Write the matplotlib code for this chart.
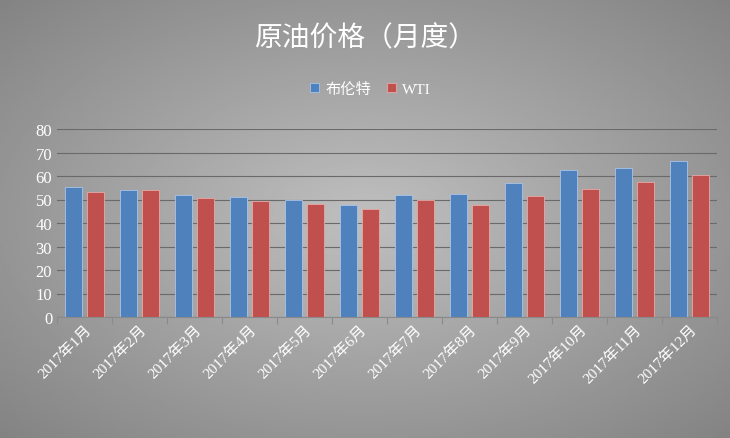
import matplotlib.pyplot as plt
import numpy as np

months = [f"2017年{i}月" for i in range(1, 13)]
brent = [55.5, 54, 52, 51, 50, 47.5, 52, 52.5, 57, 62.5, 63.5, 66.5]
wti = [53, 54, 50.5, 49.5, 48, 46, 50, 47.5, 51.5, 54.5, 57.5, 60.5]

plt.rcParams['font.family'] = ['Liberation Serif', 'Noto Sans CJK SC']

fig = plt.figure(figsize=(7.3, 4.39), dpi=100)
# dark radial background
bg = fig.add_axes([0, 0, 1, 1])
yy, xx = np.mgrid[-1:1:200j, -1:1:300j]
r = np.sqrt(xx**2 + yy**2)
bg.imshow(-r, cmap='gray', vmin=-4.5, vmax=1.5, aspect='auto', extent=[0, 1, 0, 1])
bg.axis('off')

ax = fig.add_axes([57 / 730, 1 - 318 / 439, 660 / 730, 188 / 439])
ax.patch.set_alpha(0)
x = np.arange(len(months))
w = 0.3
ax.bar(x - w / 2 - 0.05, brent, w, color='#4f81bd', edgecolor='#a8c4e8', linewidth=0.6, label='布伦特')
ax.bar(x + w / 2 + 0.05, wti, w, color='#c0504d', edgecolor='#e8a8a6', linewidth=0.6, label='WTI')
ax.set_xlim(-0.5, 11.5)
ax.set_ylim(0, 80)
ax.set_yticks(range(0, 81, 10))
ax.grid(axis='y', color='#6a6a6a', linewidth=0.8)
ax.set_axisbelow(True)
for s in ['top', 'right', 'left']:
    ax.spines[s].set_visible(False)
ax.spines['bottom'].set_color('#8a8a8a')
ax.tick_params(axis='y', length=0, colors='white', labelsize=12)
ax.tick_params(axis='x', colors='#8a8a8a', length=5, labelcolor='white', labelsize=11)
ax.set_xticks(np.arange(-0.5, 12, 1), minor=False)
ax.set_xticklabels([])
ax.set_xticks(x, minor=True)
ax.set_xticklabels(months, minor=True, rotation=45, ha='right', rotation_mode='anchor', color='white', fontsize=11)
ax.tick_params(axis='x', which='minor', length=0)

fig.text(0.5, 1 - 38 / 439, '原油价格（月度）', ha='center', va='center', color='white', fontsize=20,
         family=['Noto Sans CJK SC'])
ax.legend(loc='center', bbox_to_anchor=(0.475, 1 + 40 / 188), ncol=2, frameon=False,
          labelcolor='white', fontsize=11, handlelength=0.6, handleheight=0.6, columnspacing=1.0,
          handletextpad=0.4)

fig.savefig('out.png', dpi=100)
